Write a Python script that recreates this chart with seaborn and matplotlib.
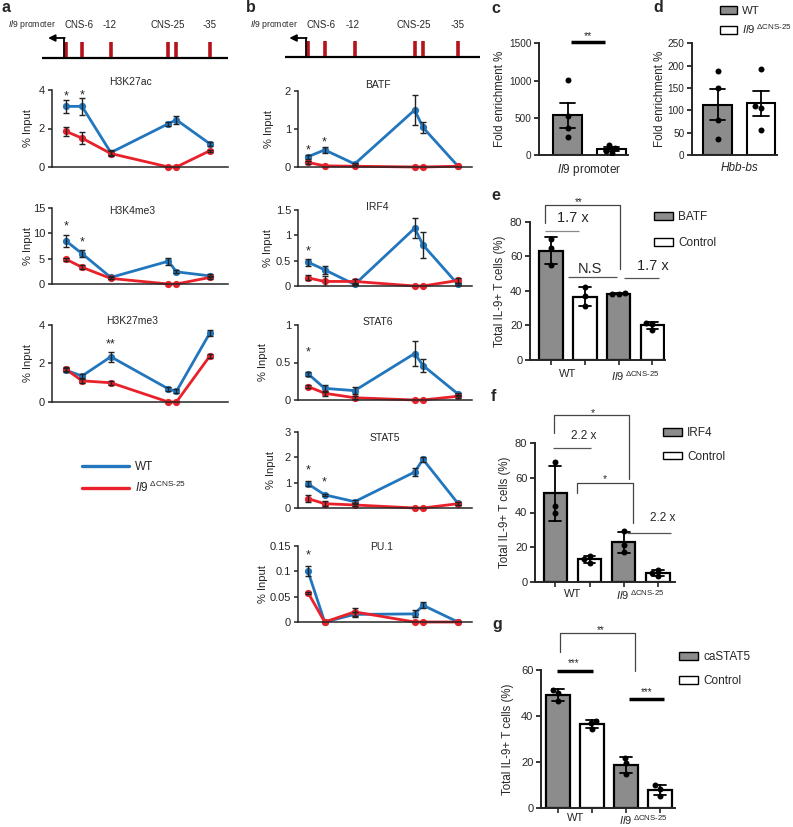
import matplotlib
matplotlib.use("Agg")
import matplotlib.pyplot as plt
import seaborn as sns
import pandas as pd
from matplotlib.lines import Line2D
from matplotlib.patches import Patch
from matplotlib.ticker import FuncFormatter

# ChIP sites along the Il9 locus (promoter, CNS-6, -12, CNS-25 x2, -35)
site_pos = [0, 1, 2.8, 6.4, 6.9, 9.0]
site_labels = ['CNS-6', '-12', 'CNS-25', '-35']

# panel a: histone marks (% input, mean and sem)
h3k27ac_wt = [3.15, 3.15, 0.75, 2.25, 2.45, 1.2]
h3k27ac_wt_err = [0.35, 0.45, 0.15, 0.1, 0.2, 0.1]
h3k27ac_ko = [1.85, 1.5, 0.7, 0.0, 0.0, 0.85]
h3k27ac_ko_err = [0.25, 0.3, 0.15, 0, 0, 0.05]

h3k4me3_wt = [8.5, 6.0, 1.3, 4.5, 2.4, 1.6]
h3k4me3_wt_err = [1.2, 0.7, 0.3, 0.7, 0.3, 0.3]
h3k4me3_ko = [4.9, 3.3, 1.1, 0.0, 0.0, 1.3]
h3k4me3_ko_err = [0.3, 0.4, 0.2, 0, 0, 0.3]

h3k27me3_wt = [1.65, 1.35, 2.35, 0.68, 0.55, 3.6]
h3k27me3_wt_err = [0.1, 0.1, 0.25, 0.1, 0.1, 0.15]
h3k27me3_ko = [1.7, 1.1, 1.0, 0.0, 0.0, 2.4]
h3k27me3_ko_err = [0.1, 0.1, 0.1, 0, 0, 0.1]

# panel b: transcription factors
batf_wt = [0.27, 0.45, 0.08, 1.5, 1.04, 0.02]
batf_wt_err = [0.05, 0.08, 0.03, 0.4, 0.15, 0]
batf_ko = [0.12, 0.03, 0.02, 0.0, 0.0, 0.02]
batf_ko_err = [0.03, 0, 0, 0, 0, 0]

irf4_wt = [0.47, 0.32, 0.03, 1.14, 0.81, 0.03]
irf4_wt_err = [0.07, 0.08, 0.02, 0.2, 0.25, 0.02]
irf4_ko = [0.16, 0.09, 0.09, 0.0, 0.0, 0.11]
irf4_ko_err = [0.05, 0.1, 0.05, 0, 0, 0.05]

stat6_wt = [0.35, 0.155, 0.125, 0.62, 0.46, 0.08]
stat6_wt_err = [0.03, 0.05, 0.05, 0.17, 0.09, 0.02]
stat6_ko = [0.18, 0.09, 0.03, 0.0, 0.0, 0.05]
stat6_ko_err = [0.02, 0.03, 0.02, 0, 0, 0.02]

stat5_wt = [0.95, 0.52, 0.25, 1.42, 1.92, 0.18]
stat5_wt_err = [0.1, 0.05, 0.05, 0.15, 0.1, 0.05]
stat5_ko = [0.37, 0.17, 0.12, 0.0, 0.0, 0.17]
stat5_ko_err = [0.15, 0.1, 0.05, 0, 0, 0.05]

pu1_wt = [0.1, 0.0, 0.015, 0.016, 0.033, 0.0]
pu1_wt_err = [0.01, 0, 0.005, 0.007, 0.006, 0]
pu1_ko = [0.058, 0.0, 0.02, 0.0, 0.0, 0.0]
pu1_ko_err = [0.002, 0, 0.008, 0, 0, 0]

# panels c, d: fold enrichment (individual mice)
c_wt = [1007, 528, 367, 238]
c_ko = [140, 100, 60, 30]
d_wt = [188, 150, 78, 35]
d_ko = [193, 110, 105, 55]

# panels e-g: % IL-9+ T cells after transduction
e_wt_batf = [70, 65, 55]
e_wt_ctrl = [42, 37, 31]
e_ko_batf = [38.6, 38.4, 38.0]
e_ko_ctrl = [21.5, 21.0, 17.5]

f_wt_irf4 = [69, 44, 40]
f_wt_ctrl = [15, 13, 11]
f_ko_irf4 = [29.5, 21.5, 17.3]
f_ko_ctrl = [7, 5, 3.5]

g_wt_stat5 = [51.5, 50, 46.5]
g_wt_ctrl = [38, 37, 34.5]
g_ko_stat5 = [22, 19.5, 15]
g_ko_ctrl = [10, 8.5, 5.5]

BLUE = '#2176bd'
RED = '#e8212a'
DARKRED = '#b5121b'
GRAY = '#8c8c8c'
KO_LABEL = r'$\mathit{Il9}^{\text{ ΔCNS-25}}$'

sns.set_style('ticks')
plt.rcParams['font.family'] = ['Liberation Sans', 'DejaVu Sans']
plt.rcParams['mathtext.fontset'] = 'custom'
plt.rcParams['mathtext.rm'] = 'Liberation Sans'
plt.rcParams['mathtext.it'] = 'Liberation Sans:italic'
plt.rcParams['mathtext.bf'] = 'Liberation Sans:bold'
plt.rcParams['axes.linewidth'] = 1.1
plt.rcParams['xtick.major.width'] = 1.1
plt.rcParams['ytick.major.width'] = 1.1

W, H = 793, 827
fig = plt.figure(figsize=(W / 100, H / 100), dpi=100)


def box(l, t, r, b):
    return [l / W, 1 - b / H, (r - l) / W, (b - t) / H]


def ftext(x, y, s, **kw):
    fig.text(x / W, 1 - y / H, s, **kw)


def star(ax, x, y, s, fs=9):
    # y is where the asterisks should appear, so shift the baseline down
    ax.annotate(s, (x, y), xytext=(0, -0.55 * fs), textcoords='offset points',
                ha='center', va='baseline', fontsize=fs, annotation_clip=False)


def ylabel_px(ax, text, cx, l, r, fs):
    ax.set_ylabel(text, fontsize=fs)
    ax.yaxis.set_label_coords((cx + 0.75 * fs - l) / (r - l), 0.5)


def draw_locus(ax, xlim, base_x, base_y):
    ax.set_xlim(xlim)
    ax.set_ylim(62, 8)
    ax.axis('off')
    ax.plot(base_x, [base_y, base_y], color='black', lw=1.6, solid_capstyle='butt')
    ax.vlines(site_pos, base_y - 16, base_y - 1, color=DARKRED, lw=2.6)
    x0 = site_pos[0] - 0.12
    ax.plot([x0, x0], [base_y, 38], color='black', lw=1.3)
    ax.annotate('', xy=(x0 - 1.0, 38), xytext=(x0 + 0.04, 38),
                arrowprops=dict(arrowstyle='-|>', color='black', lw=1.3, mutation_scale=10,
                                shrinkA=0, shrinkB=0))
    ax.text(site_pos[0] - 0.62, 25, r'$\mathit{Il9}$ promoter', ha='right', va='center', fontsize=6.2)
    for xp, lab in zip([0.8, 2.7, 6.35, 9.0], site_labels):
        ax.text(xp, 25, lab, ha='center', va='center', fontsize=7)


def draw_profile(ax, spec, xlim):
    name, wt, wt_err, ko, ko_err, ymax, yticks, title_xy, stars, ylab_x = spec
    df = pd.DataFrame({'pos': site_pos * 2, 'val': wt + ko,
                       'geno': ['WT'] * len(wt) + ['KO'] * len(ko)})
    sns.lineplot(data=df, x='pos', y='val', hue='geno', hue_order=['WT', 'KO'],
                 palette={'WT': BLUE, 'KO': RED}, marker='o', markersize=5.2,
                 markeredgewidth=0, linewidth=2, legend=False, errorbar=None,
                 clip_on=False, ax=ax)
    for vals, errs in ((wt, wt_err), (ko, ko_err)):
        idx = [i for i, e in enumerate(errs) if e > 0]
        ax.errorbar([site_pos[i] for i in idx], [vals[i] for i in idx],
                    yerr=[errs[i] for i in idx], fmt='none', ecolor='#222222',
                    elinewidth=1, capsize=2.5, capthick=1)
    ax.set_xlim(xlim)
    ax.set_ylim(0, ymax)
    ax.set_yticks(yticks)
    ax.yaxis.set_major_formatter(FuncFormatter(lambda v, p: f'{v:g}'))
    ax.tick_params(axis='y', labelsize=8, length=3, pad=2)
    ax.set_xticks([])
    ax.set_xlabel('')
    sns.despine(ax=ax)
    pos = ax.get_position()
    l, r = pos.x0 * W, pos.x1 * W
    ylabel_px(ax, '% Input', ylab_x, l, r, 8)
    ftext(title_xy[0], title_xy[1], name, ha='center', va='center', fontsize=7.5)
    for i, s, y in stars:
        star(ax, site_pos[i], y, s)


# ---------- panel a ----------
ax = fig.add_axes(box(40, 8, 232, 62))
draw_locus(ax, (-1.625, 10.375), [-1.5, 10.125], 58)

a_specs = [
    ('H3K27ac', h3k27ac_wt, h3k27ac_wt_err, h3k27ac_ko, h3k27ac_ko_err, 4, [0, 2, 4],
     (130, 82), [(0, '*', 3.86), (1, '*', 3.9)], 27),
    ('H3K4me3', h3k4me3_wt, h3k4me3_wt_err, h3k4me3_ko, h3k4me3_ko_err, 15, [0, 5, 10, 15],
     (132, 211), [(0, '*', 12.2), (1, '*', 9.0)], 27),
    ('H3K27me3', h3k27me3_wt, h3k27me3_wt_err, h3k27me3_ko, h3k27me3_ko_err, 4, [0, 2, 4],
     (132, 321), [(2, '**', 3.18)], 27),
]
a_boxes = [(52, 90, 228, 167), (52, 208, 228, 284), (52, 325, 228, 402)]
for spec, b in zip(a_specs, a_boxes):
    ax = fig.add_axes(box(*b))
    draw_profile(ax, spec, (-0.875, 10.125))

fig.legend(handles=[Line2D([], [], color=BLUE, lw=2.4), Line2D([], [], color=RED, lw=2.4)],
           labels=['WT', KO_LABEL], loc='upper left', bbox_to_anchor=(82 / W, 1 - 461 / H),
           frameon=False, fontsize=8.5, handlelength=4.0, handletextpad=0.5,
           labelspacing=0.55, borderpad=0, borderaxespad=0)

# ---------- panel b ----------
ax = fig.add_axes(box(283, 8, 482, 62))
draw_locus(ax, (-1.5, 10.44), [-1.38, 10.32], 57)

b_specs = [
    ('BATF', batf_wt, batf_wt_err, batf_ko, batf_ko_err, 2, [0, 1, 2],
     (378, 85), [(0, '*', 0.53), (1, '*', 0.76)], 268),
    ('IRF4', irf4_wt, irf4_wt_err, irf4_ko, irf4_ko_err, 1.5, [0, 0.5, 1, 1.5],
     (377, 207), [(0, '*', 0.76)], 267),
    ('STAT6', stat6_wt, stat6_wt_err, stat6_ko, stat6_ko_err, 1, [0, 0.5, 1],
     (378, 322), [(0, '*', 0.69)], 262),
    ('STAT5', stat5_wt, stat5_wt_err, stat5_ko, stat5_ko_err, 3, [0, 1, 2, 3],
     (385, 438), [(0, '*', 1.63), (1, '*', 1.18)], 270),
    ('PU.1', pu1_wt, pu1_wt_err, pu1_ko, pu1_ko_err, 0.15, [0, 0.05, 0.1, 0.15],
     (382, 547), [(0, '*', 0.139)], 262),
]
b_boxes = [(298, 91, 472, 167), (298, 210, 472, 286), (298, 325, 472, 400),
           (298, 432, 472, 508), (298, 546, 472, 622)]
for spec, b in zip(b_specs, b_boxes):
    ax = fig.add_axes(box(*b))
    draw_profile(ax, spec, (-0.6, 9.84))


# ---------- bar panels ----------
def style_bar_axis(ax, ymax, yticks, ylab_x, b, ylabel, tick_fs=8):
    ax.set_ylim(0, ymax)
    ax.set_yticks(yticks)
    ax.tick_params(axis='y', labelsize=tick_fs, length=3.5, pad=2, width=1.3)
    ax.spines['left'].set_linewidth(1.4)
    ax.spines['bottom'].set_linewidth(1.4)
    sns.despine(ax=ax)
    ax.set_xlabel('')
    ylabel_px(ax, ylabel, ylab_x, b[0], b[2], 8.3)


def enrichment_panel(b, wt, ko, ymax, yticks, xlim, xlabel, ylab_x, italic=False):
    ax = fig.add_axes(box(*b))
    df = pd.DataFrame({'geno': ['WT'] * len(wt) + ['KO'] * len(ko), 'val': wt + ko})
    sns.barplot(data=df, x='geno', y='val', hue='geno', order=['WT', 'KO'],
                palette={'WT': GRAY, 'KO': 'white'}, width=0.66, errorbar='se',
                capsize=0.35, err_kws={'color': 'black', 'linewidth': 1.3},
                edgecolor='black', linewidth=1.5, legend=False, ax=ax)
    sns.swarmplot(data=df, x='geno', y='val', order=['WT', 'KO'], color='black', size=4.3, ax=ax)
    ax.set_xlim(xlim)
    ax.set_xticks([0.5], [xlabel], fontstyle='italic' if italic else 'normal')
    ax.tick_params(axis='x', length=0, labelsize=8.5, pad=5)
    style_bar_axis(ax, ymax, yticks, ylab_x, b, 'Fold enrichment %', tick_fs=7.2)
    return ax


ax_c = enrichment_panel((539, 43.3, 628, 155), c_wt, c_ko, 1500, [0, 500, 1000, 1500],
                        (-0.65, 1.375), r'$\mathit{Il9}$ promoter', 500)
ax_c.plot([0.08, 0.85], [1513, 1513], color='black', lw=2.5, clip_on=False, solid_capstyle='butt')
star(ax_c, 0.47, 1640, '**', fs=7.5)

ax_d = enrichment_panel((692, 43.3, 777, 155), d_wt, d_ko, 250, [0, 50, 100, 150, 200, 250],
                        (-0.59, 1.37), 'Hbb-bs', 660, italic=True)
ax_d.legend(handles=[Patch(facecolor=GRAY, edgecolor='black', lw=1),
                     Patch(facecolor='white', edgecolor='black', lw=1)],
            labels=['WT', KO_LABEL], loc='upper left', bbox_to_anchor=(720 / W, 1 - 6 / H),
            bbox_transform=fig.transFigure, frameon=False, fontsize=8.2,
            handlelength=1.45, handleheight=0.7, handletextpad=0.45, labelspacing=0.55,
            borderpad=0, borderaxespad=0)


def transduction_panel(b, samples, treat, ymax, yticks, xlim, ylab_x, label_pad):
    ax = fig.add_axes(box(*b))
    cond = ['WT|' + treat, 'WT|Control', 'KO|' + treat, 'KO|Control']
    rows = [(c, c.split('|')[1], v) for c, vals in zip(cond, samples) for v in vals]
    df = pd.DataFrame(rows, columns=['cond', 'treat', 'val'])
    sns.barplot(data=df, x='cond', y='val', hue='treat', order=cond,
                hue_order=[treat, 'Control'], palette={treat: GRAY, 'Control': 'white'},
                dodge=False, width=0.7, errorbar='sd', capsize=0.35,
                err_kws={'color': 'black', 'linewidth': 1.3},
                edgecolor='black', linewidth=1.6, legend=False, ax=ax)
    sns.swarmplot(data=df, x='cond', y='val', order=cond, color='black', size=4.3, ax=ax)
    ax.set_xlim(xlim)
    ax.set_xticks([0, 1, 2, 3], [''] * 4)
    ax.set_xticks([0.5, 2.5], ['WT', KO_LABEL], minor=True)
    ax.tick_params(axis='x', which='major', length=3.5, width=1.2)
    ax.tick_params(axis='x', which='minor', length=0, labelsize=8, pad=label_pad)
    style_bar_axis(ax, ymax, yticks, ylab_x, b, 'Total IL-9+ T cells (%)')
    return ax


def bar_legend(ax, treat, x, y, spacing):
    ax.legend(handles=[Patch(facecolor=GRAY, edgecolor='black', lw=1),
                       Patch(facecolor='white', edgecolor='black', lw=1)],
              labels=[treat, 'Control'], loc='upper left', bbox_to_anchor=(x / W, 1 - y / H),
              bbox_transform=fig.transFigure, frameon=False, fontsize=8.5,
              handlelength=1.6, handleheight=0.6, handletextpad=0.45, labelspacing=spacing,
              borderpad=0, borderaxespad=0)


def bracket(ax, x0, x1, top, yl, yr):
    ax.plot([x0, x0, x1, x1], [yl, top, top, yr], color='#444444', lw=0.9, clip_on=False)


def hline(ax, x0, x1, y, lw=0.9, color='#555555'):
    ax.plot([x0, x1], [y, y], color=color, lw=lw, clip_on=False, solid_capstyle='butt')


def label(ax, x, y, s, fs):
    ax.text(x, y, s, ha='center', va='center', fontsize=fs, clip_on=False)


# panel e
ax_e = transduction_panel((530, 221.7, 665, 360), [e_wt_batf, e_wt_ctrl, e_ko_batf, e_ko_ctrl],
                          'BATF', 80, [0, 20, 40, 60, 80], (-0.62, 3.37), 500, 6.5)
bar_legend(ax_e, 'BATF', 654, 211, 1.2)
bracket(ax_e, -0.18, 2.04, 89.6, 79.2, 52.6)
star(ax_e, 0.83, 92.5, '**', fs=7)
label(ax_e, 0.66, 82, '1.7 x', 10.5)
hline(ax_e, -0.18, 0.83, 74.6, color='#888888')
label(ax_e, 1.15, 52.5, 'N.S', 10.5)
hline(ax_e, 0.5, 1.95, 48)
label(ax_e, 3.0, 54.5, '1.7 x', 10.5)
hline(ax_e, 2.16, 3.2, 47.4)

# panel f
ax_f = transduction_panel((535, 443.3, 675, 581.7), [f_wt_irf4, f_wt_ctrl, f_ko_irf4, f_ko_ctrl],
                          'IRF4', 80, [0, 20, 40, 60, 80], (-0.6, 3.51), 505, 5)
bar_legend(ax_f, 'IRF4', 663, 427, 1.0)
bracket(ax_f, -0.04, 2.16, 96.4, 86, 59.4)
star(ax_f, 1.1, 99.3, '*', fs=7.5)
label(ax_f, 0.84, 84.3, '2.2 x', 8.5)
hline(ax_f, -0.07, 1.04, 77.3)
bracket(ax_f, 0.63, 2.28, 57.1, 51.3, 34)
star(ax_f, 1.46, 61, '*', fs=7.5)
label(ax_f, 3.16, 36.8, '2.2 x', 8.5)
hline(ax_f, 2.1, 3.4, 28.2)

# panel g
ax_g = transduction_panel((541, 670, 675, 808.3), [g_wt_stat5, g_wt_ctrl, g_ko_stat5, g_ko_ctrl],
                          'caSTAT5', 60, [0, 20, 40, 60], (-0.51, 3.43), 508, 3.2)
bar_legend(ax_g, 'caSTAT5', 679, 651, 1.05)
bracket(ax_g, 0.04, 2.25, 76, 67.8, 59.6)
star(ax_g, 1.25, 78.2, '**', fs=7)
hline(ax_g, -0.04, 1.01, 59.6, lw=2.5, color='black')
star(ax_g, 0.46, 63.9, '***', fs=7)
hline(ax_g, 2.07, 3.1, 47.4, lw=2.5, color='black')
star(ax_g, 2.6, 51.3, '***', fs=7)

# panel letters
for s, x, y in [('a', 2, 0), ('b', 246, 0), ('c', 491, 1), ('d', 653, 0),
                ('e', 491, 188), ('f', 491, 389), ('g', 492, 617)]:
    ftext(x, y, s, fontsize=11.5, fontweight='bold', ha='left', va='top')

fig.savefig('out.png', dpi=100)
